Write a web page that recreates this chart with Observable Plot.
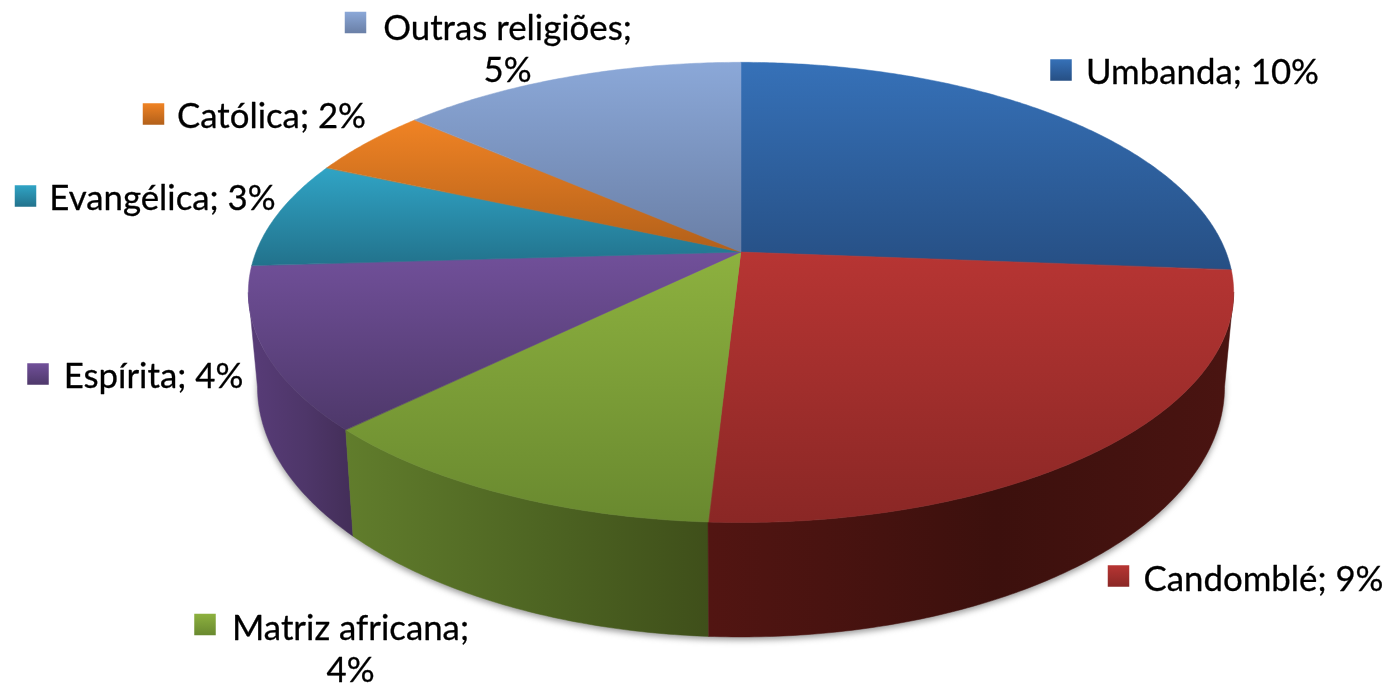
<!DOCTYPE html>
<html lang="pt">
<head>
<meta charset="utf-8">
<style>html,body{margin:0;padding:0;background:#fff}svg{display:block}</style>
<script src="https://cdn.jsdelivr.net/npm/d3@7"></script>
<script src="https://cdn.jsdelivr.net/npm/@observablehq/plot@0.6"></script>
</head>
<body>
<div id="chart"></div>
<script>
// Data
const religions = ["Umbanda","Candomblé","Matriz africana","Espírita","Evangélica","Católica","Outras religiões"];
const values = [9.72,9.11,4.36,4.21,2.8,1.8,5.0];
const lineBreakAfterName = [false,false,true,false,false,false,true];

// Styles
const topColors = [["#3671b8","#264f84"],["#b73533","#8a2725"],["#8db13f","#69892f"],["#71509a","#4e386a"],["#30a4c5","#22728c"],["#f08324","#b2601a"],["#8ba8d8","#6a7fa6"]];
const sideColors = {1:["#521512","#3c100d","#4a1411"],2:["#617d2c","#4d6422","#3f4f1a"],3:["#583c78","#4e3669","#432e58"]};

// Layout (page units)
const top3d = {cx:741,y0:252,A:223,d:485,c:0.1757};
const base3d = {cx:741,y0:343,A:242.3,d:476,c:0.1757};
const labelCentres = [[1202,70],[1263,577],[350,647],[153,374],[162,196],[271,114],[507,47]];
const boxCentres = [[1061,70],[1118.5,576],[205,624.5],[38,374],[25.5,196],[153.5,114],[355.5,22.5]];
const boxSize = 21.5;

const total = d3.sum(values);
const cum = d3.cumsum(values);
const slices = religions.map((name,i)=>({
  name,i,
  a0:(i?cum[i-1]:0)/total*2*Math.PI,
  a1:cum[i]/total*2*Math.PI,
  label:name+";"+(lineBreakAfterName[i]?"\n":" ")+Math.round(values[i])+"%",
  cx:labelCentres[i][0],cy:labelCentres[i][1],
  bx:boxCentres[i][0],by:boxCentres[i][1]
}));
function project(p,a){
  const u=Math.sin(a),v=Math.cos(a),w=1+p.c*v;
  return [p.cx+p.d*u/w,p.y0-p.A*v/w];
}
function arc(a0,a1){
  const n=Math.max(2,Math.ceil((a1-a0)/0.01));
  return d3.range(n+1).map(k=>a0+(a1-a0)*k/n);
}

function defs(){
  const g=document.createElementNS("http://www.w3.org/2000/svg","g");
  let s="<defs>";
  topColors.forEach((c,i)=>{s+=`<linearGradient id="t${i}" x1="0" y1="0" x2="0" y2="1"><stop offset="0" stop-color="${c[0]}"/><stop offset="1" stop-color="${c[1]}"/></linearGradient>`;});
  Object.entries(sideColors).forEach(([i,c])=>{s+=`<linearGradient id="s${i}" x1="0" y1="0" x2="1" y2="0"><stop offset="0" stop-color="${c[0]}"/><stop offset=".55" stop-color="${c[1]}"/><stop offset="1" stop-color="${c[2]}"/></linearGradient>`;});
  g.innerHTML=s+"</defs>";
  return g;
}

const marks=[defs];

// soft shadow under the base
const ring=arc(0,2*Math.PI).map(a=>project(base3d,a));
marks.push(Plot.area(ring,{x1:()=>base3d.cx,y1:()=>base3d.y0,x2:d=>d[0],y2:d=>d[1]+3,fill:"#777",fillOpacity:0.75,imageFilter:"blur(3px)"}));

// visible side walls, back to front; each ends at the rim's silhouette angle
const silhouette=Math.acos(-top3d.c);
slices.filter(s=>Math.cos((s.a0+s.a1)/2)<0).reverse().forEach(s=>{
  const a0=Math.max(s.a0,silhouette),a1=Math.min(s.a1,2*Math.PI-silhouette);
  const pts=arc(a0,a1).map(a=>({t:project(top3d,a),b:project(base3d,a)}));
  marks.push(Plot.area(pts,{x1:d=>d.t[0],y1:d=>d.t[1],x2:d=>d.b[0],y2:d=>d.b[1],fill:`url(#s${s.i})`,stroke:`url(#s${s.i})`,strokeWidth:0.5}));
});

// top faces
slices.forEach(s=>{
  const pts=arc(s.a0,s.a1).map(a=>project(top3d,a));
  marks.push(Plot.area(pts,{x1:()=>top3d.cx,y1:()=>top3d.y0,x2:d=>d[0],y2:d=>d[1],fill:`url(#t${s.i})`,stroke:`url(#t${s.i})`,strokeWidth:0.5}));
});

// legend keys and labels
slices.forEach(s=>{
  marks.push(Plot.rect([s],{x1:d=>d.bx-boxSize/2,x2:d=>d.bx+boxSize/2,y1:d=>d.by-boxSize/2,y2:d=>d.by+boxSize/2,fill:`url(#t${s.i})`}));
});
marks.push(Plot.text(slices,{x:"cx",y:"cy",text:"label",textAnchor:"middle",lineAnchor:"middle",lineHeight:1.2,fontSize:34.8,fontFamily:"Lato, 'Open Sans', sans-serif",fill:"#000",stroke:"#000",strokeWidth:0.3}));

const chart=Plot.plot({
  width:1389,height:688,margin:0,
  x:{domain:[0,1389],range:[0,1389],axis:null},
  y:{domain:[0,688],range:[0,688],axis:null},
  style:{background:"#fff",filter:"blur(0.5px)"},
  marks
});
document.getElementById("chart").appendChild(chart);
</script>
</body>
</html>
